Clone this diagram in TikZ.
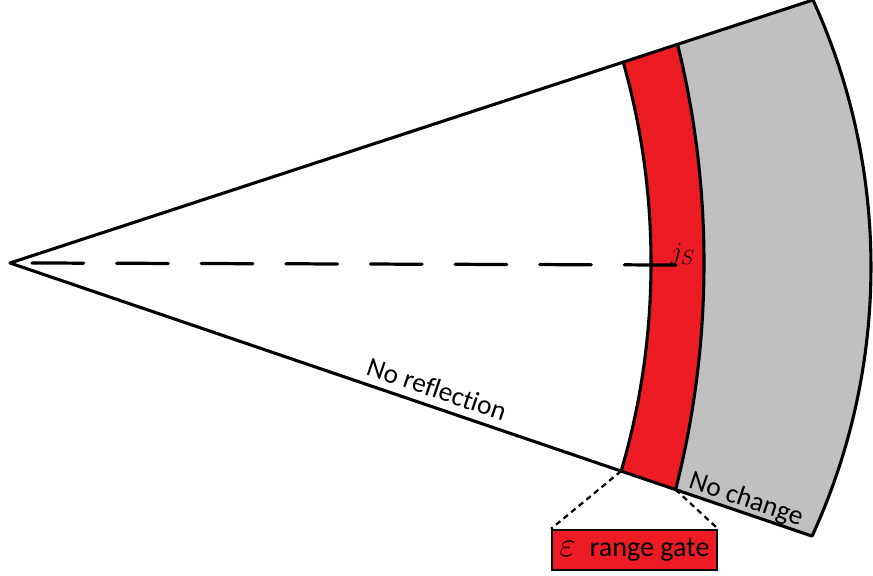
\documentclass[tikz,border=0pt]{standalone}
\usepackage{fontspec}
\setmainfont{Carlito}[Ligatures=NoCommon]
\usetikzlibrary{positioning,calc,intersections}
\definecolor{gatered}{RGB}{237,28,36}
\definecolor{farzone}{RGB}{192,192,192}
\begin{document}
\begin{tikzpicture}[x=0.025cm,y=0.025cm,
  edge/.style={line width=2.2pt, line join=round},
  gateline/.style={line width=1.6pt, dash pattern=on 4pt off 3pt},
  axisline/.style={line width=2.3pt, line cap=round, dash pattern=on 1.29cm off 0.825cm},
  lbl/.style={font=\fontsize{19.5}{22}\selectfont, inner sep=1pt}]
\useasboundingbox (-10,-312) rectangle (863,263);
% centres of the three fronts
\coordinate (apex) at (0,0);
\coordinate (innerC) at (-94,0);
\coordinate (outerC) at (-216,0);
\coordinate (farC) at (217,-4);
\coordinate (farTop) at ($(farC)+(24.5:644)$);
\coordinate (farBot) at ($(farC)+(-24.7:644)$);
% cone with the gate band
\begin{scope}
\clip (apex) -- (farTop) arc[start angle=24.5, end angle=-24.7, radius=644] -- cycle;
\fill[farzone] (-20,-320) rectangle (880,270);
\fill[gatered] (outerC) circle[radius=910];
\fill[white] (innerC) circle[radius=735];
\draw[edge] (outerC) circle[radius=910];
\draw[edge] (innerC) circle[radius=735];
\end{scope}
\draw[edge] (apex) -- (farTop) arc[start angle=24.5, end angle=-24.7, radius=644] -- cycle;
% lower corners of the band
\path[name path=lowedge] (apex) -- (farBot);
\path[name path=innerarc] (innerC) circle[radius=735];
\path[name path=outerarc] (outerC) circle[radius=910];
\path[name intersections={of=lowedge and innerarc, by=innerBot}];
\path[name intersections={of=lowedge and outerarc, by=outerBot}];
% axis
\coordinate (axisStart) at (22,0);
\coordinate (axisEnd) at (667,-2);
\draw[axisline] (axisStart) -- (axisEnd);
\node[font=\fontsize{19}{20}\selectfont] (js) at (673,9) {$j_S$};
% labels
\node[lbl, rotate=-18.7] (noref) at (427,-126) {No reflection};
\node[lbl, rotate=-18.7] (nochange) at (736,-237) {No change};
% range gate
\node[draw, fill=gatered, line width=1.6pt, minimum width=4.12cm, minimum height=1cm,
  font=\fontsize{20}{22}\selectfont] (gate) at (624.5,-287)
  {{\fontsize{25}{25}\selectfont$\varepsilon$}\enspace range gate};
\draw[gateline] (innerBot) -- (gate.north west);
\draw[gateline] (outerBot) -- (gate.north east);
\end{tikzpicture}
\end{document}
